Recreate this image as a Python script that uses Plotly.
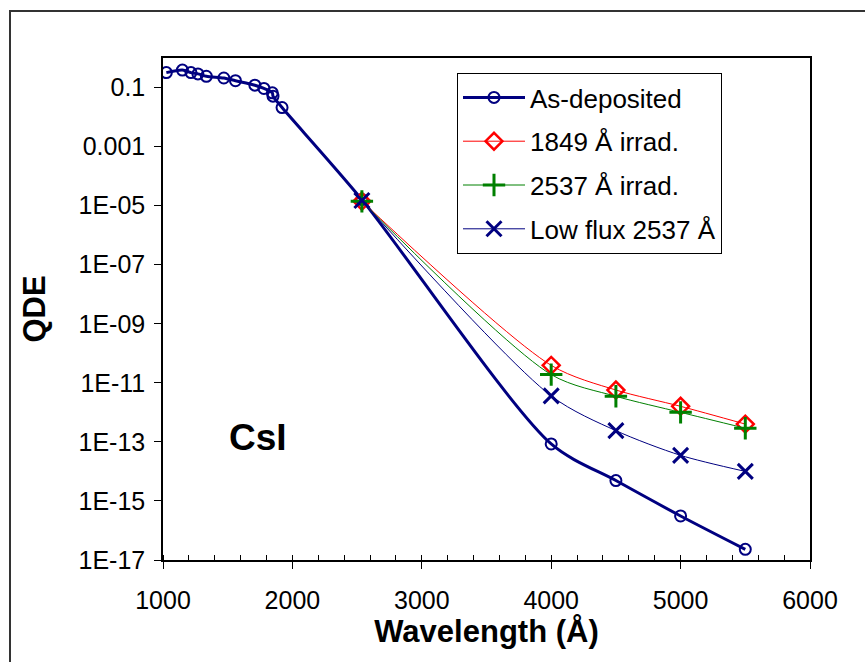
import plotly.graph_objects as go

# Data
wl_as = [1026, 1150, 1216, 1270, 1335, 1470, 1560, 1710, 1780, 1845, 1850, 1920, 2537, 4000, 4500, 5000, 5500]
qde_as = [0.32, 0.39, 0.32, 0.29, 0.24, 0.21, 0.17, 0.12, 0.093, 0.066, 0.051, 0.021, 1.6e-5, 8.5e-14, 4.9e-15, 3.1e-16, 2.3e-17]

wl_irr = [2537, 4000, 4500, 5000, 5500]
qde_1849 = [1.4e-5, 3.9e-11, 5.7e-12, 1.6e-12, 4.0e-13]
qde_2537 = [1.4e-5, 1.9e-11, 3.5e-12, 1.0e-12, 2.9e-13]
qde_low = [1.5e-5, 3.6e-12, 2.4e-13, 3.5e-14, 1.0e-14]

ytick_vals = [1e-1, 1e-3, 1e-5, 1e-7, 1e-9, 1e-11, 1e-13, 1e-15, 1e-17]
ytick_text = ["0.1", "0.001", "1E-05", "1E-07", "1E-09", "1E-11", "1E-13", "1E-15", "1E-17"]

FONT = "Arial, Liberation Sans, sans-serif"
NAVY = "#000080"

fig = go.Figure()
fig.add_trace(go.Scatter(
    x=wl_as, y=qde_as, name="As-deposited", mode="lines+markers", legendgroup="a",
    line=dict(color=NAVY, width=3, shape="spline", smoothing=0.8),
    marker=dict(symbol="circle-open", size=11, color=NAVY, line=dict(width=2, color=NAVY)),
))
fig.add_trace(go.Scatter(
    x=wl_irr, y=qde_1849, name="1849 Å irrad.", mode="lines+markers", legendgroup="b",
    line=dict(color="#FF0000", width=1, shape="spline", smoothing=0.8),
    marker=dict(symbol="diamond-open", size=13, color="#FF0000", line=dict(width=2.5, color="#FF0000")),
))
fig.add_trace(go.Scatter(
    x=wl_irr, y=qde_2537, name="2537 Å irrad.", mode="lines+markers", legendgroup="c",
    line=dict(color="#008000", width=1, shape="spline", smoothing=0.8),
    marker=dict(symbol="cross-thin-open", size=16, color="#008000", line=dict(width=3, color="#008000")),
))
fig.add_trace(go.Scatter(
    x=wl_irr, y=qde_low, name="Low flux 2537 Å", mode="lines+markers", legendgroup="d",
    line=dict(color=NAVY, width=1, shape="spline", smoothing=0.8),
    marker=dict(symbol="x-thin-open", size=15, color=NAVY, line=dict(width=3, color=NAVY)),
))

L, R, T, B = 163, 55, 58, 102
W, H = 865, 662
pw, ph = W - L - R, H - T - B

def px(x):
    return (x - L) / pw

def py(y):
    return (H - B - y) / ph

fig.update_layout(
    width=W, height=H,
    margin=dict(l=L, r=R, t=T, b=B),
    paper_bgcolor="white", plot_bgcolor="white",
    font=dict(family=FONT, size=24, color="black"),
    showlegend=True,
    legend=dict(
        x=px(457), y=py(73), xanchor="left", yanchor="top",
        bordercolor="black", borderwidth=1, bgcolor="white",
        font=dict(size=26), tracegroupgap=7, itemwidth=62,
    ),
    xaxis=dict(
        range=[1000, 6000], dtick=1000, tick0=1000,
        showline=True, linecolor="black", linewidth=1.5, mirror=True,
        ticks="outside", ticklen=7, tickcolor="black",
        minor=dict(ticks="inside", dtick=200, ticklen=5, tickcolor="black", showgrid=False),
        showgrid=False, zeroline=False,
        tickfont=dict(size=25), ticklabelstandoff=10,
        title=dict(text="<b>Wavelength (Å)</b>", font=dict(size=31), standoff=8),
    ),
    yaxis=dict(
        type="log", range=[-17, 0],
        tickvals=ytick_vals, ticktext=ytick_text,
        showline=True, linecolor="black", linewidth=1.5, mirror=True,
        ticks="outside", ticklen=7, tickcolor="black",
        showgrid=False, zeroline=False,
        tickfont=dict(size=25), ticklabelstandoff=4,
        title=dict(text="<b>QDE</b>", font=dict(size=31), standoff=24),
    ),
    shapes=[dict(
        type="rect", xref="paper", yref="paper",
        x0=px(10), y0=py(800), x1=px(1100), y1=py(11),
        line=dict(color="#333333", width=2), fillcolor="rgba(0,0,0,0)", layer="below",
    )],
    annotations=[dict(
        text="<b>CsI</b>", xref="paper", yref="paper",
        x=px(258), y=py(437), xanchor="center", yanchor="middle",
        showarrow=False, font=dict(size=37, family=FONT),
    )],
)

fig.write_html("out.html")
